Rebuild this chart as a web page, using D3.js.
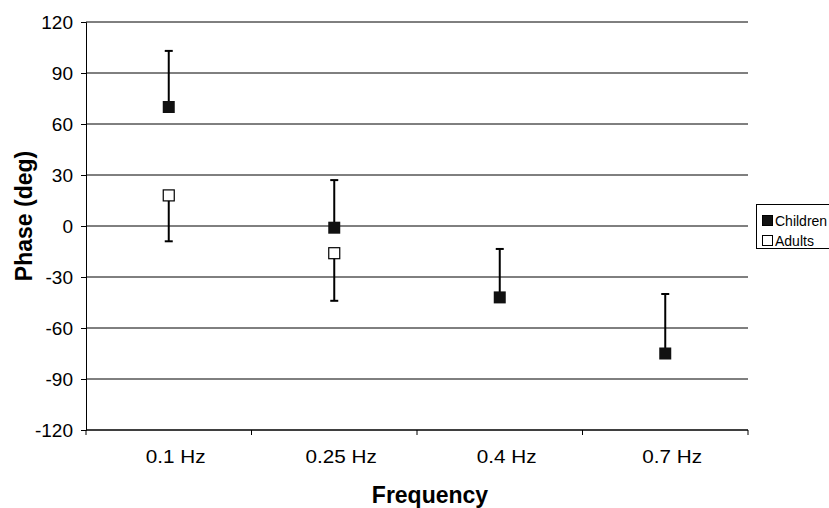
<!DOCTYPE html>
<html>
<head>
<meta charset="utf-8">
<script src="https://cdn.jsdelivr.net/npm/d3@7"></script>
<style>
	body { margin: 0; background: #fff; overflow: hidden; }
	text { font-family: "Liberation Sans", Arial, sans-serif; fill: #000; }
</style>
</head>
<body>
<svg id="chart" width="829" height="508"></svg>
<script>
// categories and values
const frequencies = ["0.1 Hz", "0.25 Hz", "0.4 Hz", "0.7 Hz"];
const yTicks = [120, 90, 60, 30, 0, -30, -60, -90, -120];

const childrenPhase = [70, -1, -42, -75];
const childrenErrTop = [103, 27, -13.5, -40];

const adultsFreq = ["0.1 Hz", "0.25 Hz"];
const adultsPhase = [18, -16];
const adultsErrBottom = [-9, -44];

const bounds = { minX: 86, maxX: 748, minY: 22, maxY: 430 };
const svg = d3.select("svg#chart");

let scaleX = d3.scaleBand().domain(frequencies).range([bounds.minX, bounds.maxX]);
let scaleY = d3.scaleLinear().domain([-120, 120]).range([bounds.maxY, bounds.minY]);
let cx = f => scaleX(f) + scaleX.bandwidth() / 2;

// horizontal gridlines
svg.append("g")
	.selectAll("line")
	.data(yTicks)
	.join("line")
	.attr("x1", bounds.minX).attr("x2", bounds.maxX)
	.attr("y1", d => scaleY(d)).attr("y2", d => scaleY(d))
	.attr("stroke", "#000").attr("stroke-width", 1);

// y axis
let yAxis = svg.append("g")
	.attr("transform", `translate(${bounds.minX} 0)`)
	.call(d3.axisLeft(scaleY).tickValues(yTicks).tickSize(5).tickPadding(8)
		.tickFormat(d => String(d)));
yAxis.selectAll("text").attr("font-size", 19).attr("dy", "0.35em")
	.style("font-family", "'Liberation Sans', Arial, sans-serif");
yAxis.selectAll("line, path").attr("stroke", "#000");

// x axis with ticks on category boundaries
let xAxisG = svg.append("g").attr("transform", `translate(0 ${bounds.maxY})`);
xAxisG.append("line")
	.attr("x1", bounds.minX).attr("x2", bounds.maxX)
	.attr("stroke", "#000");
let edges = frequencies.map(f => scaleX(f)).concat([bounds.maxX]);
xAxisG.selectAll("line.tick")
	.data(edges)
	.join("line")
	.attr("class", "tick")
	.attr("x1", d => d).attr("x2", d => d)
	.attr("y1", 0).attr("y2", 5)
	.attr("stroke", "#000");
xAxisG.selectAll("text")
	.data(frequencies)
	.join("text")
	.attr("transform", d => `translate(${cx(d) + 7} 33) scale(1.15 1)`)
	.attr("text-anchor", "middle")
	.attr("font-size", 18)
	.text(d => d);

// axis titles
svg.append("text")
	.attr("x", 430)
	.attr("y", 503)
	.attr("text-anchor", "middle")
	.attr("font-size", 23).attr("font-weight", "bold")
	.text("Frequency");
svg.append("text")
	.attr("transform", "translate(32 216) rotate(-90)")
	.attr("text-anchor", "middle")
	.attr("font-size", 23).attr("font-weight", "bold")
	.text("Phase (deg)");

const cap = 4;
const half = 6;

// children: upper error bars
let children = frequencies.map((f, i) => ({ f, v: childrenPhase[i], e: childrenErrTop[i] }));
let cg = svg.append("g");
cg.selectAll("line.err")
	.data(children)
	.join("line")
	.attr("class", "err")
	.attr("x1", d => cx(d.f)).attr("x2", d => cx(d.f))
	.attr("y1", d => scaleY(d.v)).attr("y2", d => scaleY(d.e))
	.attr("stroke", "#000").attr("stroke-width", 2);
cg.selectAll("line.cap")
	.data(children)
	.join("line")
	.attr("class", "cap")
	.attr("x1", d => cx(d.f) - cap).attr("x2", d => cx(d.f) + cap)
	.attr("y1", d => scaleY(d.e)).attr("y2", d => scaleY(d.e))
	.attr("stroke", "#000").attr("stroke-width", 2);
cg.selectAll("rect")
	.data(children)
	.join("rect")
	.attr("x", d => cx(d.f) - half).attr("y", d => scaleY(d.v) - half)
	.attr("width", half * 2).attr("height", half * 2)
	.attr("fill", "#111");

// adults: lower error bars
let adults = adultsFreq.map((f, i) => ({ f, v: adultsPhase[i], e: adultsErrBottom[i] }));
let ag = svg.append("g");
ag.selectAll("line.err")
	.data(adults)
	.join("line")
	.attr("class", "err")
	.attr("x1", d => cx(d.f)).attr("x2", d => cx(d.f))
	.attr("y1", d => scaleY(d.v)).attr("y2", d => scaleY(d.e))
	.attr("stroke", "#000").attr("stroke-width", 2);
ag.selectAll("line.cap")
	.data(adults)
	.join("line")
	.attr("class", "cap")
	.attr("x1", d => cx(d.f) - cap).attr("x2", d => cx(d.f) + cap)
	.attr("y1", d => scaleY(d.e)).attr("y2", d => scaleY(d.e))
	.attr("stroke", "#000").attr("stroke-width", 2);
ag.selectAll("rect")
	.data(adults)
	.join("rect")
	.attr("x", d => cx(d.f) - half + 0.5).attr("y", d => scaleY(d.v) - half + 0.5)
	.attr("width", half * 2 - 1).attr("height", half * 2 - 1)
	.attr("fill", "#fff").attr("stroke", "#000").attr("stroke-width", 1.2);

// legend (box runs off the right edge like the original)
let legend = svg.append("g").attr("transform", "translate(756 204)");
legend.append("rect")
	.attr("x", 0.5).attr("y", 0.5).attr("width", 90).attr("height", 44)
	.attr("fill", "#fff").attr("stroke", "#000");
let legendItems = [{ name: "Children", fill: "#111" }, { name: "Adults", fill: "#fff" }];
let li = legend.selectAll("g.item")
	.data(legendItems)
	.join("g")
	.attr("class", "item")
	.attr("transform", (d, i) => `translate(6 ${11 + i * 20})`);
li.append("rect")
	.attr("x", 0.5).attr("y", 0.5).attr("width", 10).attr("height", 10)
	.attr("fill", d => d.fill).attr("stroke", "#000");
li.append("text")
	.attr("x", 13).attr("y", 11)
	.attr("font-size", 14)
	.text(d => d.name);
</script>
</body>
</html>
